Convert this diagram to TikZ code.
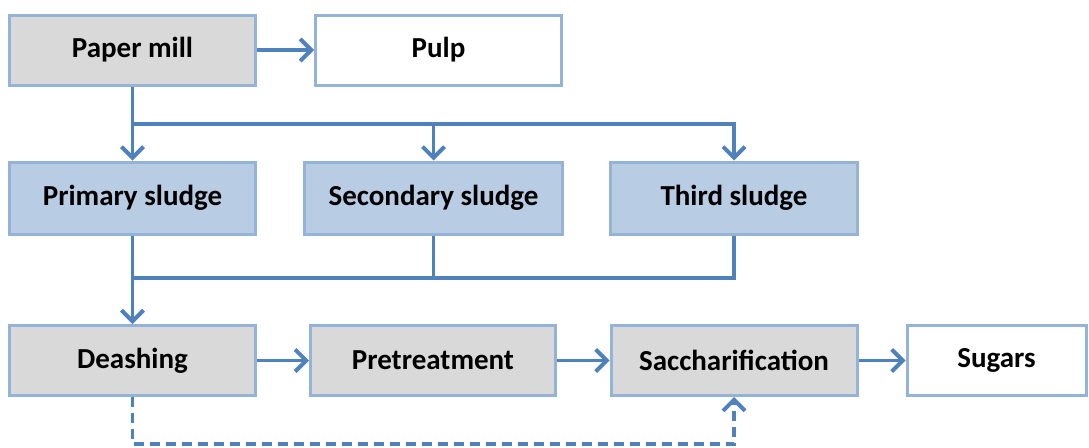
\documentclass[tikz,border=0pt]{standalone}
\usepackage{fontspec}
\setmainfont{Carlito}
\usetikzlibrary{arrows.meta}
\definecolor{linkblue}{HTML}{4F81BD}
\definecolor{edgeblue}{HTML}{95B3D7}
\definecolor{sludgefill}{HTML}{B8CCE4}
\definecolor{procfill}{HTML}{D9D9D9}

\begin{document}
\begin{tikzpicture}[x=1pt,y=-1pt,>={Straight Barb[length=11pt,width=22pt,line width=4pt]},
            box/.style={draw=edgeblue,line width=3pt,minimum width=246pt,minimum height=70pt,
                inner sep=0pt,font=\bfseries\fontsize{29}{34}\selectfont},
            procbox/.style={box,fill=procfill},
            sludgebox/.style={box,fill=sludgefill},
            outbox/.style={box,fill=white},
            link/.style={linkblue,line width=3.3pt}]
            \useasboundingbox (0,0) rectangle (1089,447);
            \node[procbox] (mill) at (132.5,50) {Paper mill};
            \node[outbox] (pulp) at (438.5,50) {Pulp};
            \node[sludgebox,minimum height=72pt] (prim) at (132.5,198) {Primary sludge};
            \node[sludgebox,minimum width=258pt,minimum height=72pt] (sec) at (433.5,198) {Secondary sludge};
            \node[sludgebox,minimum width=247pt,minimum height=72pt] (third) at (734,198) {Third sludge};
            \node[procbox] (deash) at (132.5,360.5) {Deashing};
            \node[procbox,minimum width=245pt] (pretr) at (433,360.5) {Pretreatment};
            \node[procbox] (sacch) at (734,360.5) {Saccharification};
            \node[outbox,minimum width=179pt] (sugar) at (996.5,360.5) {Sugars};
            \coordinate (split) at (mill.south |- 0,124);
            \coordinate (merge) at (prim.south |- 0,278);
            \draw[link,->] (mill) -- (pulp);
            \draw[link,->] (mill.south) -- (prim.north);
            \draw[link,->] (split) -| (third.north);
            \draw[link,->] (sec.north |- split) -- (sec.north);
            \draw[link] (third.south) |- (merge);
            \draw[link] (sec.south) -- (sec.south |- merge);
            \draw[link,->] (prim.south) -- (deash.north);
            \draw[link,->] (deash) -- (pretr);
            \draw[link,->] (pretr) -- (sacch);
            \draw[link,->] (sacch) -- (sugar);
            \draw[link,dash pattern=on 10pt off 6pt,->] (deash.south) -- ++(0,47) -| (sacch.south);
        \end{tikzpicture}
\end{document}
